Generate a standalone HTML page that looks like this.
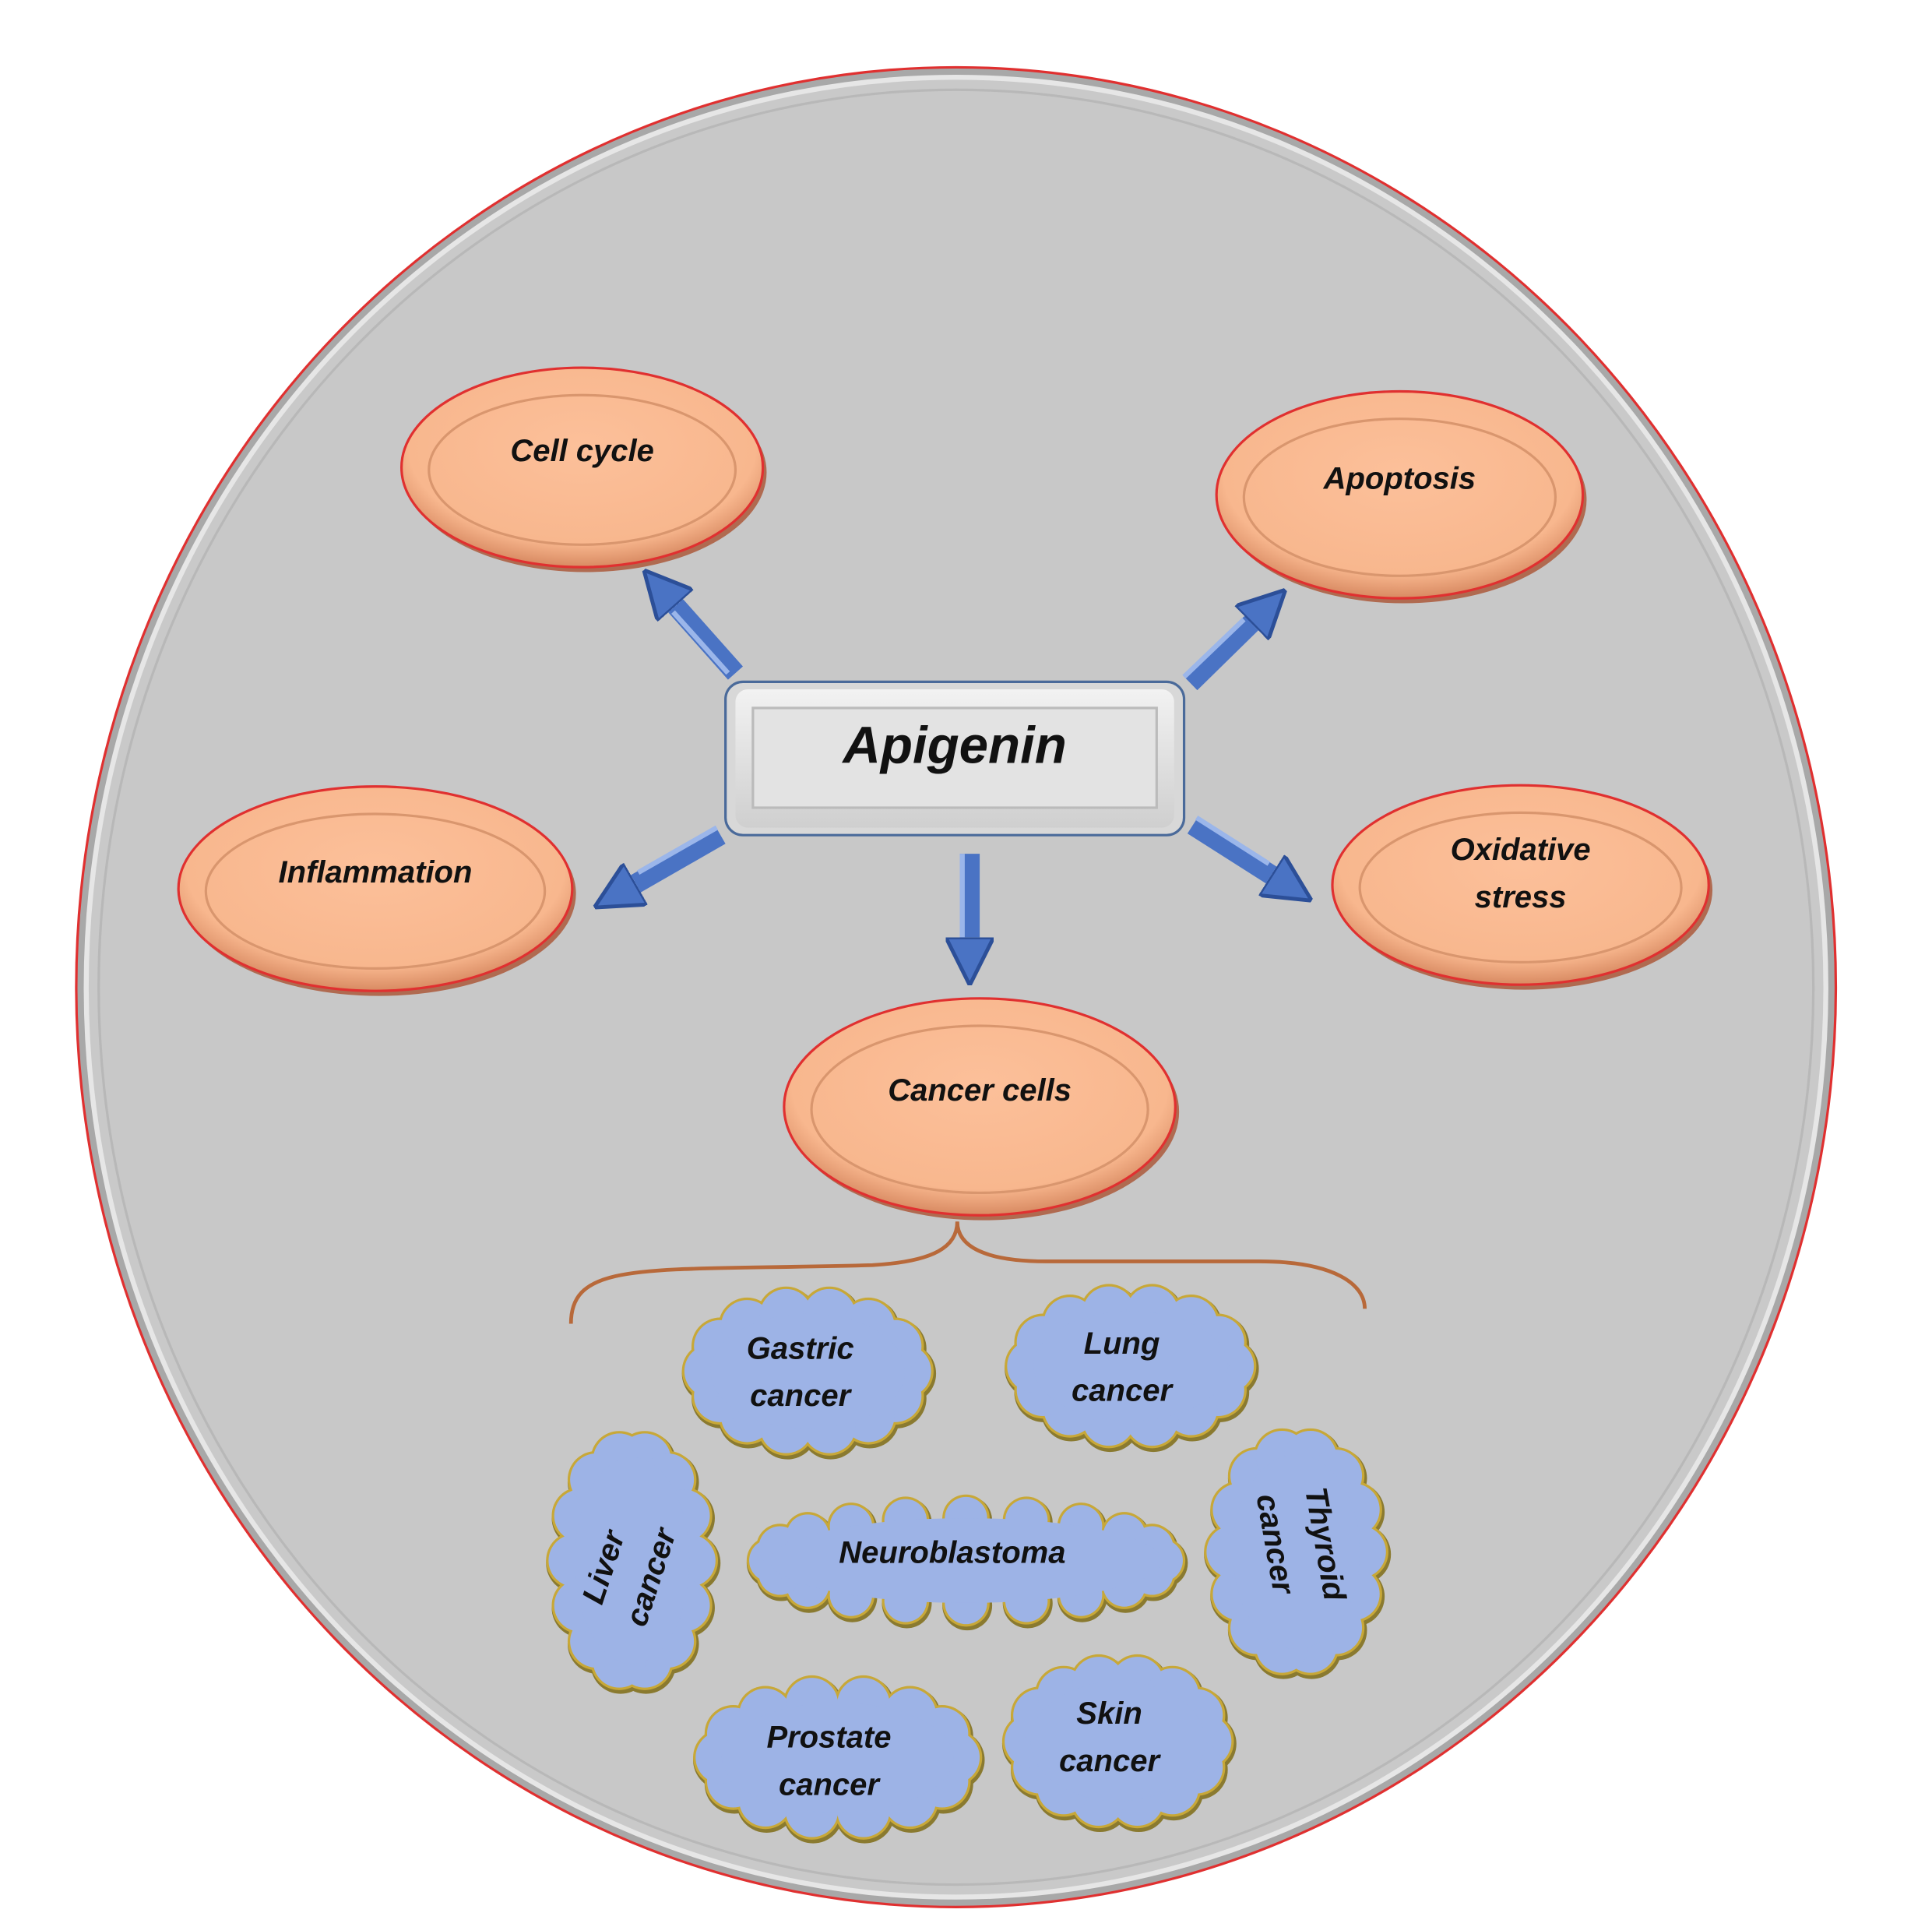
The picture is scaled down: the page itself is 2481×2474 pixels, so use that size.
<!DOCTYPE html>
<html><head><meta charset="utf-8"><style>
html,body{margin:0;padding:0;background:#fff}
svg{display:block}
text{font-family:"Liberation Sans",sans-serif;font-weight:bold;font-style:italic;fill:#111}
</style></head><body>
<svg id="s" width="2481" height="2474" viewBox="0 0 1550 1546" xmlns="http://www.w3.org/2000/svg">
<defs>
<radialGradient id="og" cx="50%" cy="40%" r="60%">
<stop offset="0" stop-color="#fcc09a"/><stop offset="0.8" stop-color="#f8b78e"/><stop offset="1" stop-color="#d88a62"/>
</radialGradient>
<linearGradient id="bg" x1="0" y1="0" x2="0" y2="1">
<stop offset="0" stop-color="#f2f2f2"/><stop offset="1" stop-color="#cfcfcf"/>
</linearGradient>
<marker id="m" viewBox="0 0 10 10" refX="0" refY="5" markerWidth="2.4" markerHeight="2.4" orient="auto">
<path d="M0,0 L10,5 L0,10 Z" fill="#4a73c4" stroke="#2c4f98" stroke-width="0.8"/>
</marker>
</defs>
<ellipse cx="767" cy="792" rx="706" ry="738" fill="#a8a8a8" stroke="#e03030" stroke-width="2"/>
<ellipse cx="767" cy="792" rx="698" ry="730" fill="#c9c9c9" stroke="#e6e6e6" stroke-width="4"/>
<ellipse cx="767" cy="792" rx="688" ry="720" fill="#c8c8c8" stroke="#b8b8b8" stroke-width="2"/>

<g id="arrows" stroke="#4a73c4" stroke-width="16" fill="none" marker-end="url(#m)">
<line x1="590" y1="540" x2="542" y2="486"/>
<line x1="955" y1="548" x2="1004" y2="500"/>
<line x1="578" y1="670" x2="510" y2="709"/>
<line x1="957" y1="662" x2="1020" y2="702"/>
<line x1="778" y1="685" x2="778" y2="752"/>
</g>
<g stroke="#9bb6ea" stroke-width="4" fill="none">
<line x1="584" y1="540" x2="540" y2="491"/>
<line x1="950" y1="543" x2="998" y2="497"/>
<line x1="575" y1="664" x2="512" y2="700"/>
<line x1="960" y1="656" x2="1018" y2="693"/>
<line x1="772" y1="685" x2="772" y2="752"/>
</g>

<rect x="582" y="547" width="368" height="123" rx="14" fill="#d8d8d8" stroke="#4a6a9a" stroke-width="2"/>
<rect x="590" y="553" width="352" height="111" rx="10" fill="url(#bg)"/>
<rect x="604" y="568" width="324" height="80" fill="#e3e3e3" stroke="#bbb" stroke-width="2"/>
<text x="766" y="612" font-size="42" text-anchor="middle">Apigenin</text>

<g id="ells"></g>

<path d="M458,1062 C458,1010 520,1020 700,1015 C750,1012 768,1000 768,980 C768,1000 790,1012 840,1012 L1010,1012 C1070,1012 1095,1030 1095,1050" fill="none" stroke="#b8693a" stroke-width="3"/>

<g id="clouds"></g>
</svg>
<script>
var NS="http://www.w3.org/2000/svg";
function el(p,t,a){var e=document.createElementNS(NS,t);for(var k in a)e.setAttribute(k,a[k]);p.appendChild(e);return e;}
var E=document.getElementById('ells');
[[467,375,145,80,["Cell cycle"]],[1123,397,147,83,["Apoptosis"]],[301,713,158,82,["Inflammation"]],[1220,710,151,80,["Oxidative","stress"]],[786,888,157,87,["Cancer cells"]]].forEach(function(d){
 el(E,'ellipse',{cx:d[0]+3,cy:d[1]+4,rx:d[2],ry:d[3],fill:'#b06a50'});
 el(E,'ellipse',{cx:d[0],cy:d[1],rx:d[2],ry:d[3],fill:'url(#og)',stroke:'#e03030','stroke-width':2});
 el(E,'ellipse',{cx:d[0],cy:d[1]+2,rx:d[2]-22,ry:d[3]-20,fill:'none',stroke:'#d9966e','stroke-width':2});
 var lines=d[4],n=lines.length;
 lines.forEach(function(s,i){var t=el(E,'text',{x:d[0],y:(n==1?d[1]-5:d[1]-20+i*38),'font-size':25,'text-anchor':'middle'});t.textContent=s;});
});
var C=document.getElementById('clouds');
function cloud(cx,cy,rx,ry,n,r){
 var pts=[];for(var i=0;i<n;i++){var a=i/n*Math.PI*2;pts.push([cx+(rx-r)*Math.cos(a),cy+(ry-r)*Math.sin(a)]);}
 var g=el(C,'g',{});
 pts.forEach(function(p){el(g,'circle',{cx:p[0]+1,cy:p[1]+2,r:r+2,fill:'#8a7a30'});});
 pts.forEach(function(p){el(g,'circle',{cx:p[0],cy:p[1],r:r+1,fill:'#c8a838'});});
 pts.forEach(function(p){el(g,'circle',{cx:p[0],cy:p[1],r:r-1,fill:'#9db3e6'});});
 el(g,'ellipse',{cx:cx,cy:cy,rx:rx-r,ry:ry-r,fill:'#9db3e6'});
}
cloud(648,1100,100,68,14,22);
cloud(907,1096,100,66,14,22);
cloud(507,1252,68,105,14,22);
cloud(775,1252,175,52,20,18);
cloud(1040,1245,73,100,14,22);
cloud(672,1410,115,66,14,22);
cloud(897,1397,92,70,14,22);
function tx(x,y,s,rot){var a={x:x,y:y,'font-size':25,'text-anchor':'middle'};if(rot)a.transform='rotate('+rot+' '+x+' '+y+')';var t=el(C,'text',a);t.textContent=s;}
tx(642,1090,"Gastric");tx(642,1128,"cancer");
tx(900,1086,"Lung");tx(900,1124,"cancer");
tx(764,1254,"Neuroblastoma");
tx(665,1402,"Prostate");tx(665,1440,"cancer");
tx(890,1383,"Skin");tx(890,1421,"cancer");
tx(492,1260,"Liver",-72);tx(530,1268,"cancer",-72);
tx(1055,1240,"Thyroid",80);tx(1015,1240,"cancer",80);
</script>
</body></html>
